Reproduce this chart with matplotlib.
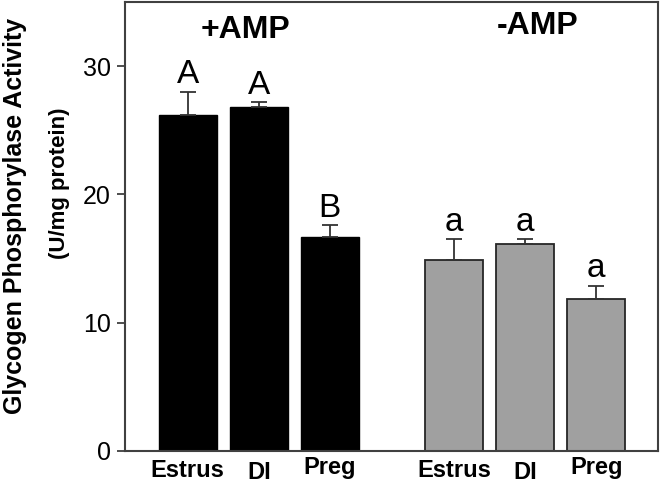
import matplotlib
matplotlib.use('Agg')
import matplotlib.pyplot as plt
from matplotlib.transforms import blended_transform_factory, offset_copy
import numpy as np

plt.rcParams['font.family'] = ['Liberation Sans', 'DejaVu Sans']

categories = ['Estrus', 'DI', 'Preg']
groups = ['+AMP', '-AMP']
values_amp = [26.2, 26.8, 16.65]
errors_amp = [1.8, 0.4, 0.95]
values_noamp = [14.85, 16.1, 11.85]
errors_noamp = [1.65, 0.4, 1.05]
letters_amp = ['A', 'A', 'B']
letters_noamp = ['a', 'a', 'a']
y_ticks = [0, 10, 20, 30]

fig = plt.figure(figsize=(6.61, 4.83), dpi=100)
ax = fig.add_axes([125 / 661, 32 / 483, (658 - 125) / 661, (451 - 2) / 483])

pos1 = np.arange(3)
pos2 = pos1 + 3.75
width = 0.82
ecol = '#333333'

ax.bar(pos1, values_amp, width, color='black', edgecolor='black', linewidth=1,
       yerr=[np.zeros(3), errors_amp], capsize=5.5,
       error_kw=dict(ecolor=ecol, elinewidth=1.3, capthick=1.3), zorder=2)
ax.bar(pos2, values_noamp, width, color='#a0a0a0', edgecolor='#262626', linewidth=1.3,
       yerr=[np.zeros(3), errors_noamp], capsize=5.5,
       error_kw=dict(ecolor=ecol, elinewidth=1.3, capthick=1.3), zorder=2)

for p, v, e, l in zip(pos1, values_amp, errors_amp, letters_amp):
    ax.annotate(l, (p, v + e), xytext=(0, 1), textcoords='offset points',
                ha='center', va='bottom', fontsize=24)
for p, v, e, l in zip(pos2, values_noamp, errors_noamp, letters_noamp):
    ax.annotate(l, (p, v + e), xytext=(0, 1), textcoords='offset points',
                ha='center', va='bottom', fontsize=24)

ax.text(0.82, 32.8, groups[0], ha='center', va='center', fontsize=23, fontweight='bold')
ax.text(4.92, 33.1, groups[1], ha='center', va='center', fontsize=23, fontweight='bold')

ax.set_xlim(-0.883, 6.62)
ax.set_ylim(0, 35)
ax.set_yticks(y_ticks)
ax.set_yticklabels([str(t) for t in y_ticks], fontsize=18)
ax.set_xticks([])
ax.tick_params(axis='y', length=6, width=1.3, color='#404040', pad=4)

# category labels below the bars (individual vertical offsets in pixels)
trans = blended_transform_factory(ax.transData, ax.transAxes)
drops = [-8, -10, -5]
for positions in (pos1, pos2):
    for p, c, d in zip(positions, categories, drops):
        t = offset_copy(trans, fig=fig, x=0, y=d, units='dots')
        ax.text(p, 0, c, transform=t, ha='center', va='top',
                fontsize=17, fontweight='bold')

for s in ax.spines.values():
    s.set_color('#404040')
    s.set_linewidth(1.5)

fig.text(15 / 661, 1 - 215.5 / 483, 'Glycogen Phosphorylase Activity', rotation=90,
         ha='center', va='center', fontsize=18, fontweight='bold')
fig.text(59 / 661, 1 - 183.5 / 483, '(U/mg protein)', rotation=90,
         ha='center', va='center', fontsize=16, fontweight='bold')

fig.savefig('out.png', dpi=100)
